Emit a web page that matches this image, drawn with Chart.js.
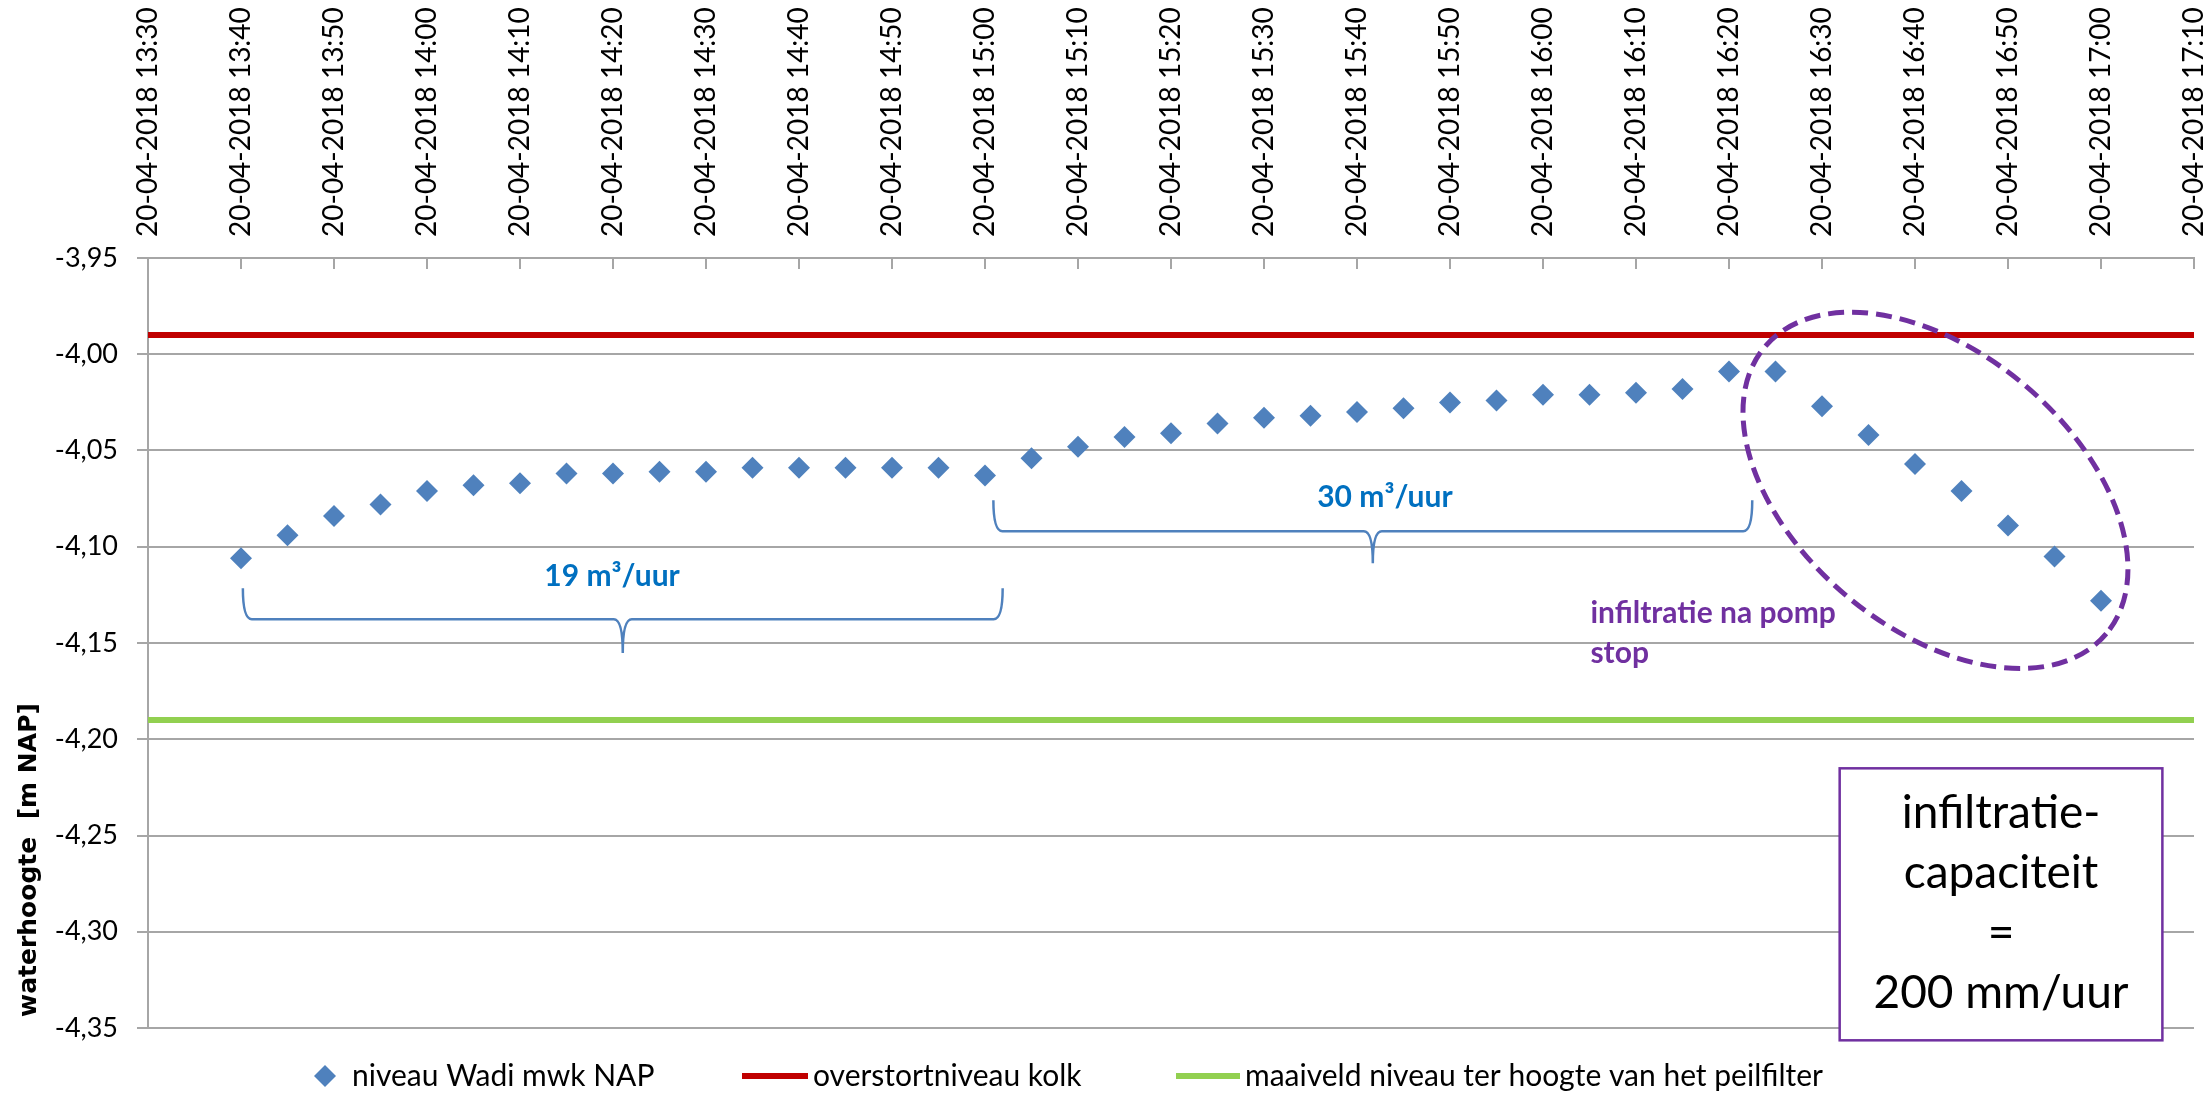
<!DOCTYPE html>
<html lang="nl">
<head>
<meta charset="utf-8">
<title>Waterhoogte wadi</title>
<script src="https://cdn.jsdelivr.net/npm/chart.js@4.4.1/dist/chart.umd.min.js"></script>
<style>
  html, body { margin: 0; padding: 0; background: #fff; }
  #wrap { width: 2210px; height: 1094px; }
</style>
</head>
<body>
<div id="wrap"><canvas id="grafiek" width="2210" height="1094"></canvas></div>
<script>
// meetmomenten (elke 5 minuten) en gemeten niveau in m NAP
const tijden = [
  "13:40", "13:45", "13:50", "13:55", "14:00", "14:05", "14:10", "14:15", "14:20", "14:25",
  "14:30", "14:35", "14:40", "14:45", "14:50", "14:55", "15:00", "15:05", "15:10", "15:15",
  "15:20", "15:25", "15:30", "15:35", "15:40", "15:45", "15:50", "15:55", "16:00", "16:05",
  "16:10", "16:15", "16:20", "16:25", "16:30", "16:35", "16:40", "16:45", "16:50", "16:55",
  "17:00"
];
const niveauWadi = [
  -4.106, -4.094, -4.084, -4.078, -4.071, -4.068, -4.067, -4.062, -4.062, -4.061,
  -4.061, -4.059, -4.059, -4.059, -4.059, -4.059, -4.063, -4.054, -4.048, -4.043,
  -4.041, -4.036, -4.033, -4.032, -4.030, -4.028, -4.025, -4.024, -4.021, -4.021,
  -4.020, -4.018, -4.009, -4.009, -4.027, -4.042, -4.057, -4.071, -4.089, -4.105,
  -4.128
];
const overstortNiveau = -3.99;
const maaiveldNiveau = -4.19;

const tickLabels = [
  "20-04-2018 13:30", "20-04-2018 13:40", "20-04-2018 13:50", "20-04-2018 14:00",
  "20-04-2018 14:10", "20-04-2018 14:20", "20-04-2018 14:30", "20-04-2018 14:40",
  "20-04-2018 14:50", "20-04-2018 15:00", "20-04-2018 15:10", "20-04-2018 15:20",
  "20-04-2018 15:30", "20-04-2018 15:40", "20-04-2018 15:50", "20-04-2018 16:00",
  "20-04-2018 16:10", "20-04-2018 16:20", "20-04-2018 16:30", "20-04-2018 16:40",
  "20-04-2018 16:50", "20-04-2018 17:00", "20-04-2018 17:10"
];

function minuten(t) {
  const [h, m] = t.split(":").map(Number);
  return h * 60 + m;
}

const xMin = minuten(tickLabels[0].slice(11));
const xMax = minuten(tickLabels[tickLabels.length - 1].slice(11));

// annotaties in grafiekcoordinaten (minuten van de dag, m NAP)
const accolades = [
  { van: 820.2, tot: 901.9, boven: -4.1216, balk: -4.1377, punt: -4.1552 },
  { van: 900.9, tot: 982.5, boven: -4.0759, balk: -4.0920, punt: -4.1086 }
];
const debietTeksten = [
  { tekst: "19 m³/uur", x: 859.9, y: -4.1154 },
  { tekst: "30 m³/uur", x: 943.0, y: -4.0743 }
];
const pompTekst = { regels: ["infiltratie na pomp", "stop"], x: 965.1, y: [-4.1346, -4.1553] };
const ellips = { x: 1002.2, y: -4.0707, rx: 223, ry: 138, hoek: 40 };
const kader = {
  van: 991.9, tot: 1026.6, boven: -4.2151, onder: -4.3564,
  regels: ["infiltratie-", "capaciteit", "=", "200 mm/uur"],
  y: [-4.2385, -4.2696, -4.3008, -4.3320]
};

const annotatiePlugin = {
  id: "annotaties",
  afterDraw(chart) {
    const { ctx, scales: { x, y } } = chart;
    ctx.save();

    // accolades
    ctx.strokeStyle = "#4f81bd";
    ctx.lineWidth = 2.5;
    accolades.forEach((a) => {
      const x1 = x.getPixelForValue(a.van);
      const x2 = x.getPixelForValue(a.tot);
      const xm = (x1 + x2) / 2;
      const yTop = y.getPixelForValue(a.boven);
      const yBar = y.getPixelForValue(a.balk);
      const yTip = y.getPixelForValue(a.punt);
      const r = 9;
      ctx.beginPath();
      ctx.moveTo(x1, yTop);
      ctx.quadraticCurveTo(x1, yBar, x1 + r, yBar);
      ctx.lineTo(xm - r, yBar);
      ctx.quadraticCurveTo(xm, yBar, xm, yTip);
      ctx.quadraticCurveTo(xm, yBar, xm + r, yBar);
      ctx.lineTo(x2 - r, yBar);
      ctx.quadraticCurveTo(x2, yBar, x2, yTop);
      ctx.stroke();
    });

    ctx.fillStyle = "#0070c0";
    ctx.font = "bold 30px Lato";
    ctx.textAlign = "center";
    ctx.textBaseline = "middle";
    debietTeksten.forEach((t) => {
      ctx.fillText(t.tekst, x.getPixelForValue(t.x), y.getPixelForValue(t.y));
    });

    // infiltratie na pomp stop
    ctx.fillStyle = "#7030a0";
    ctx.textAlign = "left";
    pompTekst.regels.forEach((r, i) => {
      ctx.fillText(r, x.getPixelForValue(pompTekst.x), y.getPixelForValue(pompTekst.y[i]));
    });

    // gestippelde ellips
    ctx.strokeStyle = "#7030a0";
    ctx.lineWidth = 5;
    ctx.setLineDash([16, 8]);
    ctx.beginPath();
    ctx.ellipse(x.getPixelForValue(ellips.x), y.getPixelForValue(ellips.y),
      ellips.rx, ellips.ry, ellips.hoek * Math.PI / 180, 0, Math.PI * 2);
    ctx.stroke();
    ctx.setLineDash([]);

    // tekstkader
    const kx1 = x.getPixelForValue(kader.van);
    const kx2 = x.getPixelForValue(kader.tot);
    const ky1 = y.getPixelForValue(kader.boven);
    const ky2 = y.getPixelForValue(kader.onder);
    ctx.fillStyle = "#ffffff";
    ctx.fillRect(kx1, ky1, kx2 - kx1, ky2 - ky1);
    ctx.strokeStyle = "#7030a0";
    ctx.lineWidth = 2.5;
    ctx.strokeRect(kx1, ky1, kx2 - kx1, ky2 - ky1);
    ctx.fillStyle = "#000000";
    ctx.font = "46px Lato";
    ctx.textAlign = "center";
    kader.regels.forEach((r, i) => {
      ctx.fillText(r, (kx1 + kx2) / 2, y.getPixelForValue(kader.y[i]));
    });

    // as-titel
    ctx.save();
    ctx.translate(29, 860);
    ctx.rotate(-Math.PI / 2);
    ctx.font = 'bold 25px "DejaVu Sans"';
    ctx.fillStyle = "#000000";
    ctx.fillText("waterhoogte  [m NAP]", 0, 0);
    ctx.restore();

    // legenda
    const legY = 1076;
    const ds = chart.data.datasets;
    ctx.font = "30px Lato";
    ctx.textAlign = "left";
    ctx.fillStyle = ds[0].pointBackgroundColor;
    Chart.helpers.drawPoint(ctx, { pointStyle: "rectRot", radius: 11, rotation: 0, borderWidth: 0 }, 325, legY);
    ctx.fillStyle = "#000000";
    ctx.fillText(ds[0].label, 352, legY);
    [[ds[1], 742, 808, 813], [ds[2], 1176, 1240, 1245]].forEach(([d, l1, l2, tx]) => {
      ctx.strokeStyle = d.borderColor;
      ctx.lineWidth = 6;
      ctx.beginPath();
      ctx.moveTo(l1, legY);
      ctx.lineTo(l2, legY);
      ctx.stroke();
      ctx.fillStyle = "#000000";
      ctx.fillText(d.label, tx, legY);
    });

    ctx.restore();
  }
};

const grijs = "#a6a6a6";

new Chart(document.getElementById("grafiek"), {
  type: "line",
  data: {
    datasets: [
      {
        label: "niveau Wadi mwk NAP",
        data: tijden.map((t, i) => ({ x: minuten(t), y: niveauWadi[i] })),
        showLine: false,
        pointStyle: "rectRot",
        pointRadius: 11,
        pointHoverRadius: 11,
        pointBorderWidth: 0,
        pointBackgroundColor: "#4f81bd",
        borderColor: "#4f81bd"
      },
      {
        label: "overstortniveau kolk",
        data: [{ x: xMin, y: overstortNiveau }, { x: xMax, y: overstortNiveau }],
        borderColor: "#c00000",
        borderWidth: 6,
        pointRadius: 0
      },
      {
        label: "maaiveld niveau ter hoogte van het peilfilter",
        data: [{ x: xMin, y: maaiveldNiveau }, { x: xMax, y: maaiveldNiveau }],
        borderColor: "#92d050",
        borderWidth: 6,
        pointRadius: 0
      }
    ]
  },
  options: {
    responsive: false,
    devicePixelRatio: 1,
    animation: false,
    events: [],
    layout: { padding: { top: 0, left: 0, right: 16, bottom: 66 } },
    plugins: {
      legend: { display: false },
      tooltip: { enabled: false }
    },
    scales: {
      x: {
        type: "linear",
        position: "top",
        min: xMin,
        max: xMax,
        afterFit(scale) {
          scale.height = 258;
          scale.paddingLeft = 0;
          scale.paddingRight = 0;
        },
        afterBuildTicks(scale) {
          scale.ticks = tickLabels.map((l) => ({ value: minuten(l.slice(11)) }));
        },
        ticks: {
          autoSkip: false,
          maxRotation: 90,
          minRotation: 90,
          padding: 32,
          labelOffset: 33.6,
          color: "#000000",
          font: { family: "Lato", size: 28, lineHeight: 1.2 },
          callback: (v, i) => tickLabels[i]
        },
        grid: { drawOnChartArea: false, tickLength: -11, color: grijs, lineWidth: 2 },
        border: { color: grijs, width: 2 }
      },
      y: {
        min: -4.35,
        max: -3.95,
        afterFit(scale) { scale.width = 148; },
        ticks: {
          stepSize: 0.05,
          padding: 19,
          color: "#000000",
          font: { family: "Lato", size: 27 },
          callback: (v) => v.toFixed(2).replace(".", ",")
        },
        grid: { color: grijs, lineWidth: 2, tickLength: 11 },
        border: { color: grijs, width: 2 }
      }
    }
  },
  plugins: [annotatiePlugin]
});
</script>
</body>
</html>
